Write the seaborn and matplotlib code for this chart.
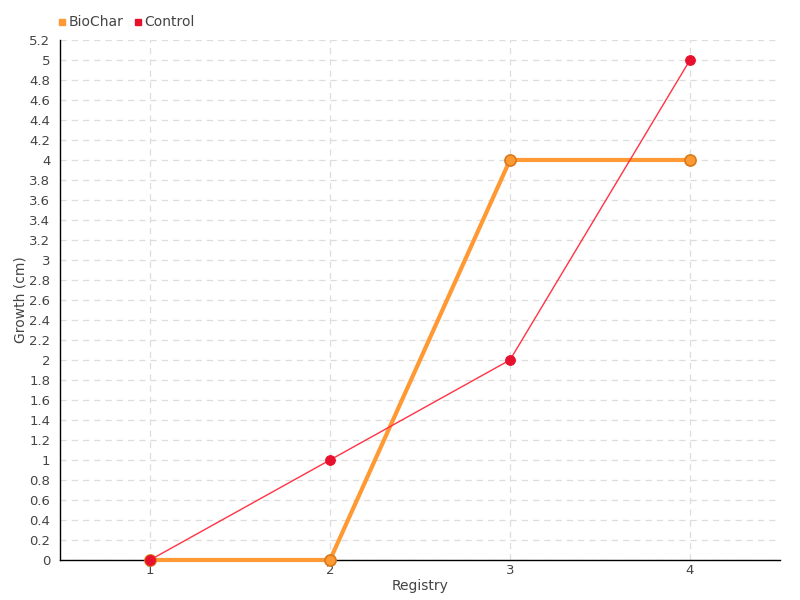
import pandas as pd
import matplotlib.pyplot as plt
import seaborn as sns
import numpy as np
from matplotlib.lines import Line2D

# data
registry = [1, 2, 3, 4]
biochar = [0, 0, 4, 4]
control = [0, 1, 2, 5]

df = pd.DataFrame({
    'Registry': registry * 2,
    'Growth (cm)': biochar + control,
    'Group': ['BioChar'] * 4 + ['Control'] * 4,
})

sns.set_theme(style='white')
plt.rcParams['font.family'] = ['DejaVu Sans']

fig = plt.figure(figsize=(8, 6), dpi=100)
ax = fig.add_axes([0.075, 0.0667, 0.9, 0.8667])

orange = '#ff9933'
red = '#ff3344'

sns.lineplot(data=df[df['Group'] == 'BioChar'], x='Registry', y='Growth (cm)',
             color=orange, linewidth=3, marker='o', markersize=8,
             markerfacecolor=orange, markeredgecolor='#d97a1a', markeredgewidth=1.2,
             ax=ax, zorder=3, clip_on=False)
sns.lineplot(data=df[df['Group'] == 'Control'], x='Registry', y='Growth (cm)',
             color=red, linewidth=1, marker='o', markersize=7,
             markerfacecolor='#e8112d', markeredgecolor='#e8112d',
             ax=ax, zorder=4, clip_on=False)

ax.set_xlim(0.5, 4.5)
ax.set_ylim(0, 5.2)
ax.set_xticks(registry)
yt = np.round(np.arange(0, 5.21, 0.2), 1)
ax.set_yticks(yt)
ax.set_yticklabels([f'{v:g}' for v in yt])

ax.grid(True, color='#dddddd', linestyle=(0, (5, 4)), linewidth=0.9)
ax.set_axisbelow(True)
for s in ['top', 'right']:
    ax.spines[s].set_visible(False)
ax.spines['left'].set_color('black')
ax.spines['bottom'].set_color('black')
ax.spines['left'].set_linewidth(1)
ax.spines['bottom'].set_linewidth(1)

ax.tick_params(axis='both', colors='#444444', labelsize=9.5, length=5,
               direction='out', width=1, pad=2)
ax.tick_params(axis='x', length=0, pad=3)
ax.set_xlabel('Registry', color='#444444', fontsize=10, labelpad=1)
ax.set_ylabel('Growth (cm)', color='#444444', fontsize=10, labelpad=1)

# legend above the plot area
handles = [Line2D([], [], marker='s', linestyle='', color=orange, markersize=5),
           Line2D([], [], marker='s', linestyle='', color='#e8112d', markersize=5)]
fig.legend(handles, ['BioChar', 'Control'], loc='upper left',
           bbox_to_anchor=(0.055, 0.995), ncol=2, frameon=False,
           handletextpad=0.1, columnspacing=0.6, fontsize=10,
           labelcolor='#444444', handlelength=0.8)

fig.savefig('out.png', dpi=100)
